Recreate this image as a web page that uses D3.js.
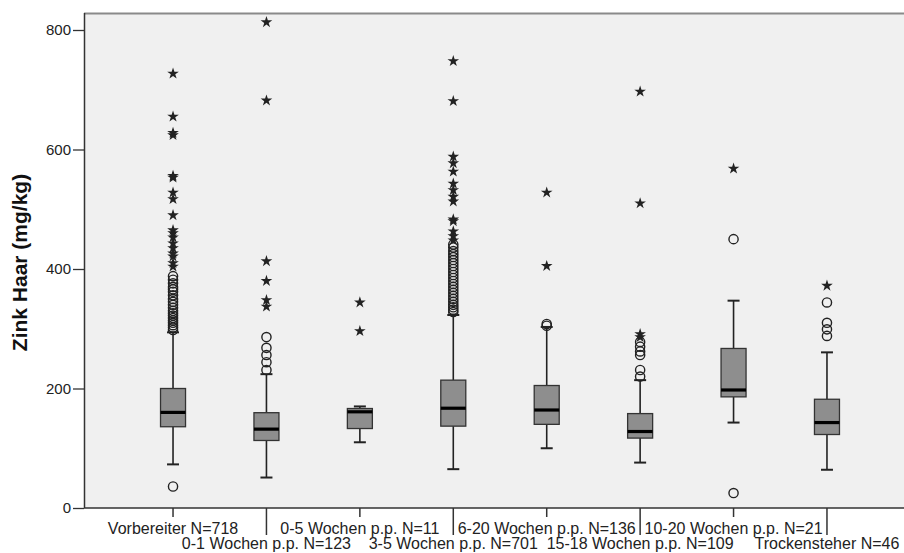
<!DOCTYPE html>
<html>
<head>
<meta charset="utf-8">
<script src="https://cdn.jsdelivr.net/npm/d3@7"></script>
<style>
  html, body { margin: 0; padding: 0; background: #ffffff; }
  svg { display: block; }
  text { font-family: "Liberation Sans", Arial, sans-serif; }
</style>
</head>
<body>
<svg id="chart" width="904" height="553"></svg>
<script>
// Hair zinc per lactation stage: box plot summaries (mg/kg)
const categories = [
  "Vorbereiter N=718", "0-1 Wochen p.p. N=123", "0-5 Wochen p.p. N=11", "3-5 Wochen p.p. N=701",
  "6-20 Wochen p.p. N=136", "15-18 Wochen p.p. N=109", "10-20 Wochen p.p. N=21", "Trockensteher N=46"
];
const q1Values      = [136, 113, 133, 137, 140, 117, 186, 123];
const medianValues  = [160, 132, 161, 167, 164, 128, 197.5, 143];
const q3Values      = [200, 159.5, 166.5, 214, 205, 158, 267, 182];
const whiskerLow    = [73, 51, 110, 65, 100, 76, 143, 64];
const whiskerHigh   = [294, 224, 170, 323, 303, 214, 347, 260.5];

// mild outliers (circles)
const circleValues = [
  [36, 298, 302, 306, 310, 314, 318, 322, 326, 330, 335, 340, 345, 350, 356, 362, 366, 370, 376, 382, 388],
  [231, 244, 256, 268, 286],
  [],
  [328, 332, 336, 340, 345, 350, 355, 360, 365, 370, 375, 380, 385, 390, 395, 400, 405, 410, 415, 420, 425, 430, 436, 441],
  [305, 308],
  [220, 231, 256, 262, 270, 278],
  [25, 450],
  [288, 299, 310, 344]
];
// extreme outliers (stars)
const starValues = [
  [404, 410, 421, 426, 435, 443, 453, 460, 465, 490, 517, 528, 553, 556, 624, 628, 655, 727],
  [337, 348, 380, 413, 682, 813],
  [296, 344],
  [448, 455, 463, 480, 483, 513, 521, 532, 543, 563, 577, 588, 681, 748],
  [405, 528],
  [286, 291, 510, 697],
  [568],
  [372]
];
const yTicks = [0, 200, 400, 600, 800];
const yTitle = "Zink Haar (mg/kg)";

const svg = d3.select("#chart");
const plotLeft = 84, plotRight = 916, plotBottom = 508, plotTop = 13;

const y = d3.scaleLinear().domain([0, 800]).range([plotBottom, 30]);
const x = d3.scalePoint().domain(categories).range([plotLeft, plotRight]).padding(0.953);

// plot background
svg.append("rect")
  .attr("x", plotLeft).attr("y", plotTop)
  .attr("width", 904 - plotLeft).attr("height", plotBottom - plotTop)
  .attr("fill", "#f0f0f0");
// top frame line
svg.append("line")
  .attr("x1", plotLeft).attr("x2", 904).attr("y1", plotTop + 0.5).attr("y2", plotTop + 0.5)
  .attr("stroke", "#8a8a8a").attr("stroke-width", 2);

// y axis
const yAxis = svg.append("g")
  .attr("transform", `translate(${plotLeft},0)`)
  .call(d3.axisLeft(y).tickValues(yTicks).tickSize(11).tickPadding(2).tickFormat(d3.format("d")));
yAxis.select(".domain").attr("stroke", "#333").attr("stroke-width", 1.5)
  .attr("d", `M0.5,${plotTop}V${plotBottom}`);
yAxis.selectAll(".tick line").attr("stroke", "#333").attr("stroke-width", 1.3);
yAxis.selectAll(".tick text").attr("fill", "#222").style("font-size", "15px");

svg.append("text")
  .attr("transform", `translate(27,${(plotTop + plotBottom) / 2 + 2}) rotate(-90)`)
  .attr("text-anchor", "middle")
  .attr("fill", "#111")
  .style("font-size", "21px").style("font-weight", "bold")
  .text(yTitle);

// x axis with staggered labels
svg.append("line")
  .attr("x1", plotLeft).attr("x2", 904).attr("y1", plotBottom).attr("y2", plotBottom)
  .attr("stroke", "#333").attr("stroke-width", 1.5);
const xt = svg.append("g").selectAll("g").data(categories).join("g")
  .attr("transform", d => `translate(${x(d)},0)`);
xt.append("line")
  .attr("y1", plotBottom).attr("y2", (d, i) => i % 2 === 0 ? plotBottom + 9 : plotBottom + 27)
  .attr("stroke", "#333").attr("stroke-width", 1.5);
xt.append("text")
  .attr("y", (d, i) => i % 2 === 0 ? 534 : 549)
  .attr("text-anchor", "middle")
  .attr("fill", "#222")
  .style("font-size", "16px")
  .text(d => d);

// boxes
const boxW = 25, capW = 12;
const groups = svg.append("g").selectAll("g").data(categories).join("g")
  .attr("transform", d => `translate(${x(d)},0)`);

groups.append("line")
  .attr("y1", (d, i) => y(whiskerLow[i])).attr("y2", (d, i) => y(q1Values[i]))
  .attr("stroke", "#222").attr("stroke-width", 1.6);
groups.append("line")
  .attr("y1", (d, i) => y(whiskerHigh[i])).attr("y2", (d, i) => y(q3Values[i]))
  .attr("stroke", "#222").attr("stroke-width", 1.6);
groups.append("line")
  .attr("x1", -capW / 2).attr("x2", capW / 2)
  .attr("y1", (d, i) => y(whiskerLow[i])).attr("y2", (d, i) => y(whiskerLow[i]))
  .attr("stroke", "#222").attr("stroke-width", 2);
groups.append("line")
  .attr("x1", -capW / 2).attr("x2", capW / 2)
  .attr("y1", (d, i) => y(whiskerHigh[i])).attr("y2", (d, i) => y(whiskerHigh[i]))
  .attr("stroke", "#222").attr("stroke-width", 2);
groups.append("rect")
  .attr("x", -boxW / 2).attr("width", boxW)
  .attr("y", (d, i) => y(q3Values[i]))
  .attr("height", (d, i) => y(q1Values[i]) - y(q3Values[i]))
  .attr("fill", "#8e8e8e").attr("stroke", "#333").attr("stroke-width", 1.3);
groups.append("line")
  .attr("x1", -boxW / 2).attr("x2", boxW / 2)
  .attr("y1", (d, i) => y(medianValues[i])).attr("y2", (d, i) => y(medianValues[i]))
  .attr("stroke", "#000").attr("stroke-width", 3.2);

// outliers
groups.each(function (d, i) {
  const g = d3.select(this);
  g.selectAll("circle.o").data(circleValues[i]).join("circle")
    .attr("class", "o")
    .attr("cx", 0).attr("cy", v => y(v)).attr("r", 4.6)
    .attr("fill", "none").attr("stroke", "#222").attr("stroke-width", 1.4);
  g.selectAll("path.s").data(starValues[i]).join("path")
    .attr("class", "s")
    .attr("transform", v => `translate(0,${y(v)})`)
    .attr("d", d3.symbol(d3.symbolStar, 42)())
    .attr("fill", "#222");
});
</script>
</body>
</html>
